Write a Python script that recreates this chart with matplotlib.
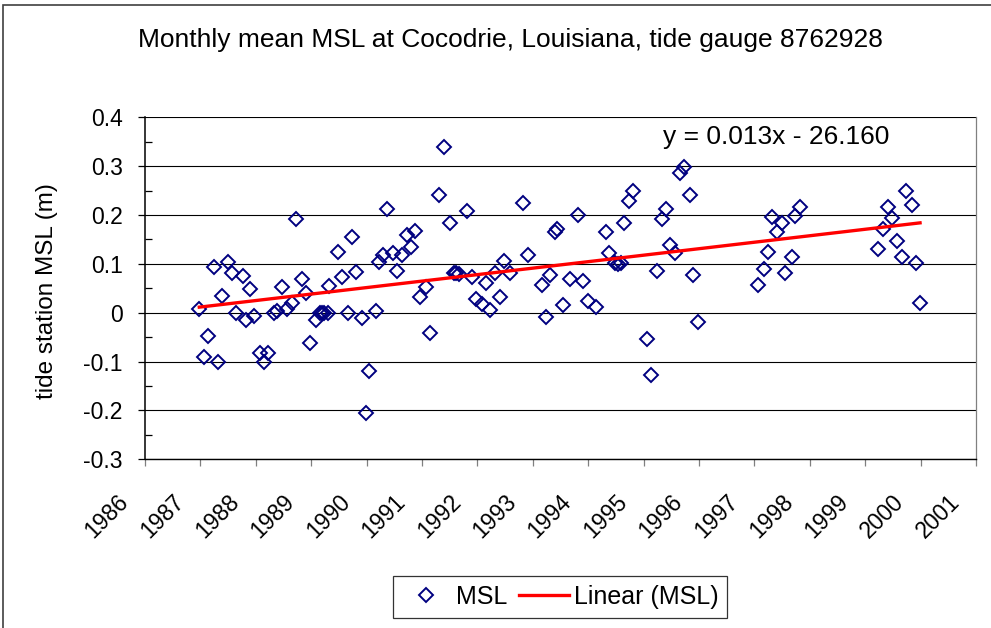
import numpy as np
import matplotlib
matplotlib.use("Agg")
import matplotlib.pyplot as plt
from matplotlib.ticker import MultipleLocator
from matplotlib.transforms import ScaledTranslation
from matplotlib.patches import Rectangle

plt.rcParams['font.family'] = ['Liberation Sans', 'DejaVu Sans']

# monthly mean sea level, decimal year vs metres
years = [1986.98, 1987.07, 1987.13, 1987.25, 1987.31, 1987.39, 1987.49, 1987.57,
         1987.64, 1987.76, 1987.82, 1987.90, 1987.97, 1988.08, 1988.15, 1988.22,
         1988.32, 1988.38, 1988.48, 1988.57, 1988.65, 1988.73, 1988.83, 1988.91,
         1988.98, 1989.08, 1989.15, 1989.19, 1989.23, 1989.30, 1989.32, 1989.48,
         1989.55, 1989.66, 1989.73, 1989.81, 1989.91, 1989.99, 1990.05, 1990.17,
         1990.23, 1990.30, 1990.37, 1990.48, 1990.55, 1990.64, 1990.73, 1990.81,
         1990.88, 1990.97, 1991.07, 1991.14, 1991.31, 1991.39, 1991.50, 1991.57,
         1991.61, 1991.66, 1991.82, 1991.90, 1991.97, 1992.08, 1992.15, 1992.22,
         1992.32, 1992.40, 1992.48, 1992.58, 1992.83, 1992.91, 1993.16, 1993.23,
         1993.31, 1993.40, 1993.44, 1993.55, 1993.67, 1993.81, 1993.91, 1994.00,
         1994.14, 1994.32, 1994.38, 1994.48, 1994.54, 1994.59, 1994.64, 1994.74,
         1994.81, 1995.07, 1995.14, 1995.25, 1995.33, 1995.40, 1995.48, 1995.57,
         1995.65, 1995.73, 1995.84, 1995.90, 1995.99, 1997.06, 1997.17, 1997.24,
         1997.31, 1997.41, 1997.50, 1997.56, 1997.68, 1997.74, 1997.82, 1999.23,
         1999.33, 1999.41, 1999.48, 1999.58, 1999.66, 1999.74, 1999.85, 1999.91,
         1999.99]
msl = [0.007, -0.091, -0.047, 0.093, -0.100, 0.035, 0.104, 0.081,
       -0.001, 0.076, -0.015, 0.048, -0.006, -0.083, -0.100, -0.083,
       -0.001, 0.003, 0.052, 0.007, 0.020, 0.192, 0.069, 0.040,
       -0.062, -0.015, -0.001, 0.000, -0.001, 0.000, 0.054, 0.125,
       0.073, -0.001, 0.155, 0.084, -0.010, -0.205, -0.120, 0.003,
       0.104, 0.118, 0.212, 0.122, 0.085, 0.118, 0.159, 0.135,
       0.168, 0.032, 0.052, -0.042, 0.240, 0.339, 0.183, 0.082,
       0.082, 0.080, 0.209, 0.073, 0.028, 0.018, 0.061, 0.006,
       0.081, 0.032, 0.105, 0.081, 0.224, 0.118, 0.057, -0.009,
       0.078, 0.166, 0.171, 0.016, 0.069, 0.200, 0.064, 0.024,
       0.011, 0.166, 0.123, 0.101, 0.099, 0.101, 0.183, 0.229,
       0.250, -0.054, -0.128, 0.085, 0.192, 0.212, 0.139, 0.123,
       0.287, 0.298, 0.240, 0.077, -0.018, 0.057, 0.089, 0.125,
       0.196, 0.166, 0.183, 0.081, 0.114, 0.198, 0.216, 0.130,
       0.171, 0.216, 0.194, 0.146, 0.114, 0.249, 0.220, 0.101,
       0.020]

year_ticks = list(range(1986, 2002))
msl_ticks = [-0.3, -0.2, -0.1, 0, 0.1, 0.2, 0.3, 0.4]
msl_tick_labels = ['-0.3', '-0.2', '-0.1', '0', '0.1', '0.2', '0.3', '0.4']

years = np.array(years)
msl = np.array(msl)
slope, icept = np.polyfit(years, msl, 1)
trend_x = np.array([years.min(), years.max()])
trend_y = slope * trend_x + icept

fig = plt.figure(figsize=(9.91, 6.28), dpi=100)
# outer chart border
fig.patches.append(Rectangle((3 / 991, -0.01), 1.0, 1 - 5 / 628 + 0.01, transform=fig.transFigure,
                             fill=False, edgecolor='#404040', linewidth=1.2))

ax = fig.add_axes([145 / 991, 1 - 459.3 / 628, (976 - 145) / 991, (459.3 - 117.3) / 628])

ax.plot(years, msl, linestyle='none', marker='D', markersize=6.8, markerfacecolor='none',
        markeredgecolor='#000080', markeredgewidth=1.4, label='MSL', zorder=3)
ax.plot(trend_x, trend_y, color='#ff0000', linewidth=2.4, label='Linear (MSL)', zorder=4)

ax.set_xlim(1986, 2001)
ax.set_ylim(-0.3, 0.4)
ax.set_yticks(msl_ticks)
ax.set_yticklabels(msl_tick_labels)
ax.yaxis.set_minor_locator(MultipleLocator(0.05))
ax.set_xticks(year_ticks)
ax.set_xticklabels([str(y) for y in year_ticks], rotation=45, ha='right', va='top')

ax.yaxis.grid(True, color='black', linewidth=0.8)
ax.set_axisbelow(True)
ax.spines['right'].set_color('#808080')
ax.spines['right'].set_linewidth(0.9)
ax.spines['top'].set_visible(False)
ax.spines['left'].set_linewidth(1.1)
ax.spines['bottom'].set_linewidth(1.0)

ax.tick_params(axis='both', which='major', direction='out', length=5, width=0.9,
               labelsize=16.5, colors='black')
ax.tick_params(axis='y', which='minor', direction='in', length=4.8, width=0.9, colors='black')
ax.tick_params(axis='x', pad=17, colors='#808080', labelcolor='black')
ax.tick_params(axis='y', which='major', pad=11)
shift = ScaledTranslation(-12 / 100, 0, fig.dpi_scale_trans)
for lab in ax.get_xticklabels():
    lab.set_transform(lab.get_transform() + shift)

fig.text(47 / 991, 1 - 291 / 628, 'tide station MSL (m)', rotation=90,
         ha='center', va='center', fontsize=17.5)
fig.text(510 / 991, 1 - 40 / 628, 'Monthly mean MSL at Cocodrie, Louisiana, tide gauge 8762928',
         ha='center', va='center', fontsize=19)
ax.text(1995.35, 0.36, 'y = 0.013x - 26.160', fontsize=19, ha='left', va='center')

leg = fig.legend(loc='center', bbox_to_anchor=(560 / 991, 1 - 597 / 628), ncol=2, fontsize=18,
                 frameon=True, fancybox=False, edgecolor='black', handlelength=2.0,
                 handletextpad=0.2, columnspacing=0.45, borderpad=0.35)
leg.get_frame().set_linewidth(0.9)

fig.savefig('out.png', dpi=100)
